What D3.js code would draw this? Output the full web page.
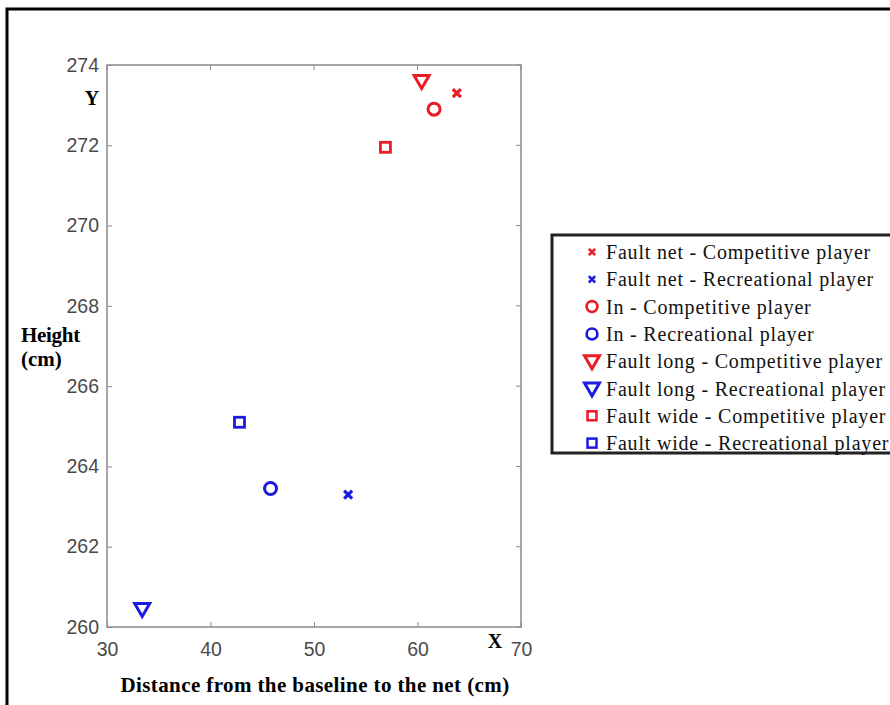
<!DOCTYPE html>
<html>
<head>
<meta charset="utf-8">
<script src="https://cdn.jsdelivr.net/npm/d3@7"></script>
<style>
  body { margin: 0; background: #fff; }
</style>
</head>
<body>
<svg width="890" height="705"></svg>
<script>
// values
var groups = ['Fault net', 'In', 'Fault long', 'Fault wide'];
var players = ['Competitive player', 'Recreational player'];
var shapes = ['cross', 'circle', 'triangle', 'square'];
var competitiveX = [63.8, 61.6, 60.4, 56.9];
var competitiveY = [273.3, 272.9, 273.6, 271.95];
var recreationalX = [53.3, 45.8, 33.4, 42.8];
var recreationalY = [263.3, 263.45, 260.45, 265.1];
var xTicks = [30, 40, 50, 60, 70];
var yTicks = [260, 262, 264, 266, 268, 270, 272, 274];
var colors = ['#ec1c24', '#1c1ce0'];

var svg = d3.select('svg');

// outer frame
svg.append('rect')
  .attr('x', 7).attr('y', 9)
  .attr('width', 900).attr('height', 720)
  .attr('fill', 'none')
  .attr('stroke', '#000')
  .attr('stroke-width', 3);

var x = d3.scaleLinear().domain([30, 70]).range([107, 521]);
var y = d3.scaleLinear().domain([260, 274]).range([627, 65]);

// plot box
svg.append('rect')
  .attr('x', x(30)).attr('y', y(274))
  .attr('width', x(70) - x(30)).attr('height', y(260) - y(274))
  .attr('fill', '#fff')
  .attr('stroke', '#8a8a8a')
  .attr('stroke-width', 1.5);

var xAxis = svg.append('g')
  .attr('transform', 'translate(0,' + y(260) + ')')
  .call(d3.axisBottom(x).tickValues(xTicks).tickSizeInner(-5).tickSizeOuter(0).tickPadding(15));
var yAxis = svg.append('g')
  .attr('transform', 'translate(' + x(30) + ',0)')
  .call(d3.axisLeft(y).tickValues(yTicks).tickSizeInner(-5).tickSizeOuter(0).tickPadding(8));

[xAxis, yAxis].forEach(function(a) {
  a.select('.domain').remove();
  a.selectAll('line').attr('stroke', '#8a8a8a');
  a.selectAll('text')
    .attr('fill', '#4a4a4a')
    .style('font-family', 'Arial, "Liberation Sans", sans-serif')
    .style('font-size', '19.5px');
});
// top and right tick marks like the matlab box
svg.append('g').selectAll('line').data(xTicks).enter().append('line')
  .attr('x1', function(d) { return x(d); }).attr('x2', function(d) { return x(d); })
  .attr('y1', y(274)).attr('y2', y(274) + 5)
  .attr('stroke', '#8a8a8a');
svg.append('g').selectAll('line').data(yTicks).enter().append('line')
  .attr('y1', function(d) { return y(d); }).attr('y2', function(d) { return y(d); })
  .attr('x1', x(70)).attr('x2', x(70) - 5)
  .attr('stroke', '#8a8a8a');

function drawMarker(g, shape, color) {
  if (shape === 'cross') {
    g.append('path').attr('d', 'M-4,-4L4,4M-4,4L4,-4')
      .attr('stroke', color).attr('stroke-width', 3.2).attr('fill', 'none');
  } else if (shape === 'circle') {
    g.append('circle').attr('r', 6)
      .attr('stroke', color).attr('stroke-width', 3).attr('fill', 'none');
  } else if (shape === 'triangle') {
    g.append('path').attr('d', 'M-7.5,-5.5L7.5,-5.5L0,7.5Z')
      .attr('stroke', color).attr('stroke-width', 3).attr('fill', 'none')
      .attr('stroke-linejoin', 'miter');
  } else {
    g.append('rect').attr('x', -5).attr('y', -5).attr('width', 10).attr('height', 10)
      .attr('stroke', color).attr('stroke-width', 2.8).attr('fill', 'none');
  }
}

var points = [];
groups.forEach(function(gname, i) {
  points.push({ shape: shapes[i], color: colors[0], x: competitiveX[i], y: competitiveY[i] });
  points.push({ shape: shapes[i], color: colors[1], x: recreationalX[i], y: recreationalY[i] });
});

svg.append('g').selectAll('g').data(points).enter().append('g')
  .attr('transform', function(d) { return 'translate(' + x(d.x) + ',' + y(d.y) + ')'; })
  .each(function(d) { drawMarker(d3.select(this), d.shape, d.color); });

// axis labels
var serif = '"Liberation Serif", "Times New Roman", serif';
svg.append('text').attr('x', 92).attr('y', 105).attr('text-anchor', 'middle')
  .style('font-family', serif).style('font-weight', 'bold').style('font-size', '20px').text('Y');
svg.append('text').attr('x', 495).attr('y', 648).attr('text-anchor', 'middle')
  .style('font-family', serif).style('font-weight', 'bold').style('font-size', '20px').text('X');
svg.append('text').attr('x', 21).attr('y', 342)
  .style('font-family', serif).style('font-weight', 'bold').style('font-size', '21px')
  .style('letter-spacing', '-0.3px').text('Height');
svg.append('text').attr('x', 21).attr('y', 366)
  .style('font-family', serif).style('font-weight', 'bold').style('font-size', '21px').text('(cm)');
svg.append('text').attr('x', 315).attr('y', 692).attr('text-anchor', 'middle')
  .style('font-family', serif).style('font-weight', 'bold').style('font-size', '21px')
  .style('letter-spacing', '0.4px')
  .text('Distance from the baseline to the net (cm)');

// legend
var legendItems = [];
groups.forEach(function(gname, i) {
  players.forEach(function(p, j) {
    legendItems.push({ label: gname + ' - ' + p, shape: shapes[i], color: colors[j] });
  });
});
var legend = svg.append('g');
legend.append('rect')
  .attr('x', 552).attr('y', 235).attr('width', 360).attr('height', 218)
  .attr('fill', '#fff').attr('stroke', '#222').attr('stroke-width', 3);
var row = legend.selectAll('g.item').data(legendItems).enter().append('g')
  .attr('class', 'item')
  .attr('transform', function(d, i) { return 'translate(0,' + (252 + i * 27.3) + ')'; });
row.each(function(d) {
  var s = d.shape === 'triangle' ? 1 : (d.shape === 'cross' ? 0.8 : 0.9);
  var m = d3.select(this).append('g')
    .attr('transform', 'translate(592,0) scale(' + s + ')');
  drawMarker(m, d.shape, d.color);
});
row.append('text')
  .attr('x', 606).attr('y', 0).attr('dy', '0.35em')
  .style('font-family', serif).style('font-size', '20px')
  .style('letter-spacing', '0.8px').attr('fill', '#111')
  .text(function(d) { return d.label; });
</script>
</body>
</html>
